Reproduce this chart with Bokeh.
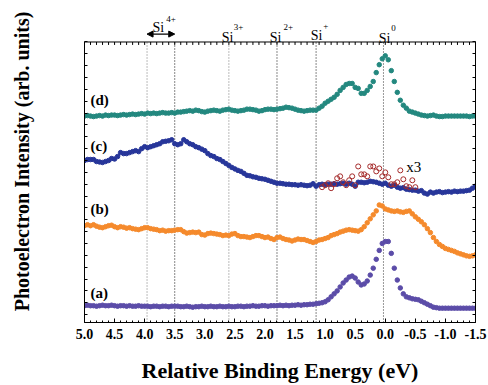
from bokeh.plotting import figure
from bokeh.models import Range1d, LinearAxis, FixedTicker, Span, Label, Arrow, NormalHead
from bokeh.core.properties import value
from bokeh.embed import file_html
from bokeh.resources import INLINE

# ---------------- data ----------------
energy = [round(5.0 - 0.05 * i, 2) for i in range(131)]

curve_a = [
    17, 17.5, 17, 17, 16.5, 17, 17.5, 17, 17, 17.5,
    17, 16.5, 17, 17, 16.5, 17, 16.5, 16.5, 17, 16.5,
    16.5, 16.5, 16, 16.5, 16.5, 16, 16.5, 16.5, 16, 16.5,
    16.5, 16.5, 16, 16, 16.5, 16, 15.5, 16, 16, 16.5,
    16, 16, 16.5, 16, 16, 16.5, 16, 16, 16.5, 16,
    16, 16.5, 16.5, 16, 16.5, 16.5, 17, 16.5, 16.5, 17,
    17, 16.5, 17, 17, 17, 17.5, 17, 17.5, 17, 17.5,
    17.5, 18, 17.5, 18, 18, 18.5, 18.5, 19, 19.5, 20,
    21, 23, 26, 29, 32, 36, 40, 43, 46, 47,
    45, 41, 38, 39, 42, 48, 55, 64, 73, 80,
    82, 82, 70, 55, 43, 35, 29, 26, 25, 24,
    23.5, 23, 21.5, 20, 18.5, 17, 15.5, 15, 14.5, 14.5,
    14.5, 14.5, 14.5, 14.5, 14.5, 14.5, 14.5, 14.5, 14.5, 14.5,
    14.5,
]

curve_b = [
    98, 99, 98, 99, 97.5, 96.5, 96, 97, 98, 98.5,
    97, 96, 97, 96.5, 95.5, 96, 95, 94.5, 94, 95,
    96, 96, 95, 94.5, 94, 93, 93.5, 92.5, 93, 93,
    93.5, 94, 94, 92, 90.5, 91, 91.5, 91, 91.5, 89,
    88.5, 90, 90.5, 90, 89.5, 89, 88, 88.5, 88, 89.5,
    90, 88, 87, 87, 86.5, 86, 87, 88, 88, 87,
    86, 86.5, 85, 84, 86, 86.5, 85, 84, 83.5, 82.5,
    83.5, 84.5, 84, 84, 83, 82, 81, 82, 83.5, 84,
    85, 86, 88, 89, 90, 91.5, 92.5, 93.5, 94, 93.5,
    93, 92.5, 94, 97, 101, 105, 109, 113, 119, 118,
    115, 114, 113, 112.5, 113, 112, 111.5, 112.5, 113, 110,
    107, 104.5, 102, 99, 95, 91, 86, 82, 79, 77,
    75, 74, 73, 72, 70.5, 69.5, 68.5, 67.5, 67, 67.5,
    68.5,
]

curve_c = [
    164, 165, 165, 165, 163, 162.5, 162, 163, 164, 166,
    165.5, 168, 172, 171, 171, 172, 173, 174, 173, 176,
    178, 177, 178, 179, 180, 181, 183, 183.5, 184, 185,
    181, 180, 181, 185, 183, 181, 180, 178, 177, 175.5,
    174, 171, 169, 168, 166, 165, 163, 161, 159, 157,
    155.5, 154, 153, 151, 149, 148.5, 147.5, 147, 146, 145.5,
    145, 144, 143, 142, 141, 141, 140.5, 140, 140, 139.5,
    139.5, 139, 139.5, 139, 138.5, 139, 140.5, 138, 139.5, 140,
    139.5, 140, 140, 140.5, 140, 140.5, 141, 140, 141, 140,
    138, 142, 142, 141.5, 142, 143, 142.5, 142, 141, 140,
    141, 139, 138, 139, 137, 136, 136.5, 135, 134.5, 134,
    134, 133, 133.5, 131, 130, 132, 131, 132, 132.5, 131.5,
    132, 132.5, 132, 133, 132.5, 133, 133, 133.5, 134, 136,
    138,
]

curve_d = [
    209, 209.5, 209, 208.5, 209, 209.5, 209, 210, 209.5, 210,
    210, 209.5, 210, 210.5, 210, 210.5, 211, 210.5, 211, 211.5,
    211, 212, 211.5, 212, 211.5, 212, 212.5, 212, 212, 212.5,
    212, 213, 213, 213.5, 214, 214.5, 214, 215, 214.5, 213.5,
    213, 214, 214.5, 215, 214.5, 214, 215, 215.5, 216, 215,
    214.5, 214, 214.5, 215, 216, 216, 215.5, 215, 214, 214.5,
    215.5, 216, 216, 215.5, 216, 216.5, 217, 218, 217.5, 217,
    216, 215, 214.5, 214, 214.5, 215, 215, 215, 217, 219,
    222, 224, 226, 228, 231, 235, 238, 241, 242, 242,
    238, 237, 232, 232, 235, 239, 244, 253, 261, 267,
    270, 266, 255, 244, 233, 225, 220, 217, 214, 213,
    212, 211, 210, 209.5, 209, 209.5, 210, 209, 208.5, 208.5,
    209, 209, 209, 209, 209, 209, 209, 209, 208.5, 209,
    209,
]

# curve (c) near-edge region magnified x3
energy_x3 = [round(1.05 - 0.05 * i, 2) for i in range(32)]
curve_c_x3 = [
    137, 139, 141, 136, 140, 146, 148, 142, 139, 144,
    148, 139, 158, 150, 150, 148, 158, 158, 153, 156,
    148, 152, 147, 140, 140, 142, 154, 145, 138, 137,
    144, 137,
]

si_lines = [3.96, 3.5, 2.6, 1.8, 1.15, 0.03]
si_line_colors = ["#777777", "#111111", "#777777", "#111111", "#111111", "#333333"]

x_major = [5.0, 4.5, 4.0, 3.5, 3.0, 2.5, 2.0, 1.5, 1.0, 0.5, 0.0, -0.5, -1.0, -1.5]
x_labels = ["5.0", "4.5", "4.0", "3.5", "3.0", "2.5", "2.0", "1.5", "1.0", "0.5",
            "0.0", "-0.5", "-1.0", "-1.5"]
x_minor = [round(5.0 - 0.1 * i, 1) for i in range(66)]
y_ticks = [8 + 12 * k for k in range(24)]

# oxidation-state labels
si_state = ["4+", "3+", "2+", "+", "0"]
si_x = [3.87, 2.72, 1.92, 1.24, 0.11]
si_sup_x = [3.64, 2.52, 1.69, 1.03, -0.10]

SERIF = "Liberation Serif"
W, H = 488, 385
Y_TOP = 284          # top edge of the data box
Y_MAX = 326          # full canvas height above the box bottom (room for labels)

p = figure(width=W, height=H, x_range=Range1d(5.0, -1.5), y_range=Range1d(0, Y_MAX),
           output_backend="svg", toolbar_location=None,
           min_border_left=84, min_border_right=13, min_border_top=0, min_border_bottom=59)
p.grid.visible = False
p.outline_line_color = None
p.background_fill_color = "white"
p.border_fill_color = "white"

xt = FixedTicker(ticks=x_major, minor_ticks=x_minor)
yt = FixedTicker(ticks=[], minor_ticks=y_ticks)

ax = p.xaxis[0]
ax.ticker = xt
ax.major_label_overrides = {v: s for v, s in zip(x_major, x_labels)}
ax.axis_label = "Relative Binding Energy (eV)"
ay = p.yaxis[0]
ay.ticker = yt
ay.bounds = (0, Y_TOP)
ay.axis_label = "Photoelectron Intensity (arb. units)"

right = LinearAxis(ticker=yt, bounds=(0, Y_TOP))
p.add_layout(right, "right")

for a in [ax, ay, right]:
    a.major_tick_in = 4
    a.major_tick_out = 0
    a.minor_tick_in = 3
    a.minor_tick_out = 0
    a.axis_line_color = "black"
    a.major_tick_line_color = "black"
    a.minor_tick_line_color = "black"
    a.axis_label_text_font = SERIF
    a.axis_label_text_font_style = "bold"
    a.axis_label_text_font_size = "22px"
    a.axis_label_text_color = "black"
    a.major_label_text_font = SERIF
    a.major_label_text_font_style = "bold"
    a.major_label_text_color = "black"
right.major_label_standoff = 0
ax.minor_tick_in = 2
ax.major_label_text_font_size = "14px"
ax.major_label_standoff = 6
ax.axis_label_standoff = 16
ay.axis_label_text_font_size = "20px"
ay.major_label_standoff = 0
ay.axis_label_standoff = 52

# top edge of the box and its ticks
p.add_layout(Span(location=Y_TOP, dimension="width", line_color="black", line_width=1))
p.segment(x0=x_minor, y0=[Y_TOP] * len(x_minor), x1=x_minor, y1=[Y_TOP - 3] * len(x_minor),
          line_color="black", line_width=1)

# dotted reference lines
p.segment(x0=si_lines, y0=[0] * len(si_lines), x1=si_lines, y1=[Y_TOP] * len(si_lines),
          line_color=si_line_colors, line_dash="1 2", line_width=1)

MS = 4.5
p.scatter(energy, curve_a, size=MS, color="#5b4ca8")
p.scatter(energy, curve_b, size=MS, color="#f58a2c")
p.scatter(energy, curve_c, size=MS, color="#27369a")
p.scatter(energy, curve_d, size=MS, color="#23887f")
p.scatter(energy_x3, curve_c_x3, size=5, marker="circle", fill_color="white",
          fill_alpha=0.0, line_color="#a52a2a", line_width=1)

for txt, yv in zip(["(a)", "(b)", "(c)", "(d)"], [30, 115, 179, 225]):
    p.add_layout(Label(x=4.9, y=yv, text=txt, text_font=SERIF, text_font_style="bold",
                       text_font_size="15px", text_baseline="middle", text_align="left",
                       text_color="black"))
p.add_layout(Label(x=-0.35, y=157, text="x3", text_font=SERIF, text_font_size="15px",
                   text_baseline="middle", text_align="left", text_color="black"))

# Si oxidation-state labels above the box
si_base_y = [299, 289, 289, 291, 288]
si_sup_y = [307, 299, 299, 300, 298]
p.text(x=si_x, y=si_base_y, text=["Si"] * 5, text_font=value(SERIF),
       text_font_size="14px", text_baseline="alphabetic", text_align="left", text_color="black")
p.text(x=si_sup_x, y=si_sup_y, text=si_state, text_font=value(SERIF),
       text_font_size="9px", text_baseline="alphabetic", text_align="left", text_color="black")
p.add_layout(Arrow(start=NormalHead(size=6, fill_color="black", line_color="black"),
                   end=NormalHead(size=6, fill_color="black", line_color="black"),
                   x_start=si_lines[0], x_end=si_lines[1], y_start=292, y_end=292,
                   line_width=1.2, line_color="black"))

open("out.html", "w").write(file_html(p, INLINE))
